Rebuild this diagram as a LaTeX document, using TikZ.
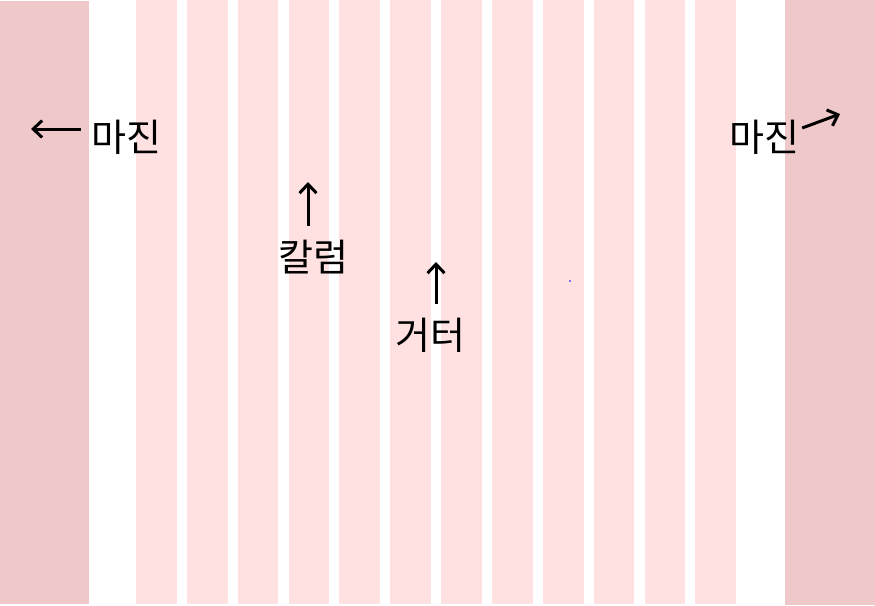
\documentclass[tikz,border=0pt]{standalone}
\usepackage{fontspec}
\newfontfamily\kr{Noto Sans CJK KR}
\usetikzlibrary{arrows.meta,positioning}
\definecolor{marginpink}{RGB}{239,201,201}
\definecolor{colpink}{RGB}{255,225,225}
\tikzset{
    label/.style={font=\kr\fontsize{38}{42}\selectfont, inner sep=0pt},
    pointer/.style={line width=3pt, -{Straight Barb[length=9pt,width=17pt,line width=3pt]}}
}

\begin{document}
\begin{tikzpicture}[x=1pt,y=-1pt]
    \useasboundingbox (0,0) rectangle (875,605);

    % Margins
    \fill[marginpink] (0,1) rectangle (89,604);
    \fill[marginpink] (785,0) rectangle (875,605);

    % Twelve columns
    \foreach \i in {0,...,11} {
        \fill[colpink] (136+\i*50.85,0) rectangle (176.7+\i*50.85,604);
    }

    % Labels
    \node[label] (marginL) at (126,137) {마진};
    \node[label] (marginR) at (764,137) {마진};
    \node[label] (column) at (313,257) {칼럼};
    \node[label] (gutter) at (430,335) {거터};

    % Pointers
    \coordinate (tipL) at (31,129);
    \coordinate (tipR) at (840,114);
    \coordinate (tipC) at (308,182);
    \coordinate (tipG) at (436,262);
    \draw[pointer] ([xshift=-10pt]marginL.west |- tipL) -- (tipL);
    \draw[pointer] ([xshift=3pt,yshift=9pt]marginR.east) -- (tipR);
    \draw[pointer] (tipC |- column.north) ++(0,-14) -- (tipC);
    \draw[pointer] (tipG |- gutter.north) ++(0,-14) -- (tipG);

    % Stray dot
    \fill[blue] (570,281) circle (0.8pt);
\end{tikzpicture}
\end{document}
